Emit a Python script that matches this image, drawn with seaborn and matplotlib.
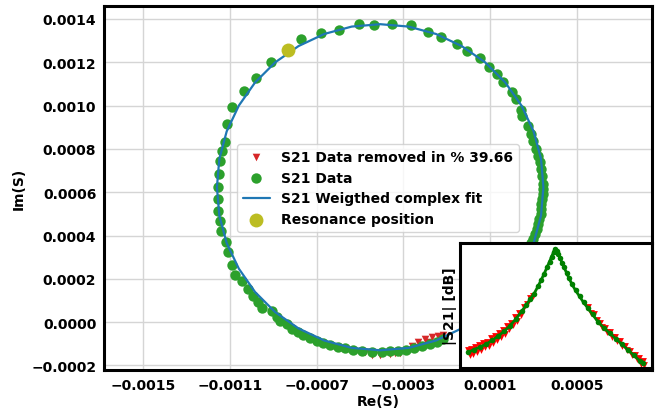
import matplotlib
matplotlib.use("Agg")
import matplotlib.pyplot as plt
from matplotlib.ticker import FuncFormatter
import seaborn as sns

# ---------------- data (units of 1e-4) ----------------
UNIT = 1e-4

data_re = [-11.23, -11.15, -10.89, -10.35, -9.80, -9.11, -8.34, -7.72, -6.82, -5.97,
           -5.03, -4.36, -3.51, -2.66, -1.86, -1.26, -0.54, -0.08, 0.52, 0.93,
           1.30, 1.61, 2.00, 2.19, 2.41, 2.47, 2.73, 2.87, 2.99, 3.12,
           3.22, 3.30, 3.35, 3.38, 3.43, 3.42, 3.42, 3.40, 3.37, 3.35,
           3.33, 3.28, 3.23, 3.16, 3.09, 3.00, 2.91,
           -11.37, -11.46, -11.51, -11.53, -11.55, -11.53, -11.48, -11.42,
           -11.18, -11.11, -10.89, -10.77, -10.46, -10.18, -9.93, -9.69, -9.51, -9.08,
           -8.85, -8.69, -8.38, -8.15, -7.85, -7.62, -7.31, -7.00, -6.70, -6.39,
           -6.00, -5.69, -5.31, -4.92, -4.46, -4.00, -3.62, -3.25, -2.88, -2.51,
           -2.14, -1.77, -1.45, -1.17]
data_im = [8.33, 9.15, 9.95, 10.67, 11.29, 12.00, 12.57, 13.09, 13.34, 13.49,
           13.78, 13.72, 13.79, 13.72, 13.41, 13.17, 12.83, 12.54, 12.18, 11.80,
           11.48, 11.08, 10.61, 10.30, 9.81, 9.53, 9.07, 8.69, 8.38, 8.00,
           7.69, 7.38, 7.07, 6.76, 6.38, 6.15, 5.92, 5.69, 5.46, 5.22,
           4.99, 4.76, 4.53, 4.30, 4.07, 3.84, 3.65,
           7.90, 7.44, 6.84, 6.24, 5.69, 5.13, 4.67, 4.21,
           3.69, 3.22, 2.64, 2.18, 1.91, 1.53, 1.22, 0.91, 0.64, 0.53,
           0.22, 0.06, -0.09, -0.32, -0.47, -0.60, -0.75, -0.86, -0.97, -1.04,
           -1.14, -1.21, -1.27, -1.32, -1.39, -1.37, -1.33, -1.31, -1.27, -1.20,
           -1.10, -1.01, -0.90, -0.80]

removed_re = [-4.45, -4.08, -3.62, -3.16, -2.79, -2.33, -2.00, -1.68, -1.41, -1.17,
              -1.86, -2.60, -3.39, -4.77]
removed_im = [-1.50, -1.52, -1.48, -1.43, -1.34, -0.90, -0.79, -0.69, -0.62, -0.60,
              -0.93, -1.11, -1.41, -1.40]

fit_re = [1.70, 2.45, 3.01, 3.35, 3.46, 3.35, 3.01, 2.45, 1.70, 0.77,
          -0.31, -1.50, -2.76, -4.07, -5.38, -6.645, -7.835, -8.91, -9.84, -10.59,
          -11.15, -11.49, -11.60, -11.49, -11.15, -10.59, -9.84, -8.91, -7.835, -6.645,
          -5.38, -4.07, -2.76, -1.50, -0.31]
fit_im = [1.39, 2.47, 3.65, 4.92, 6.23, 7.54, 8.81, 10.00, 11.07, 12.00,
          12.75, 13.31, 13.65, 13.76, 13.65, 13.31, 12.75, 12.00, 11.07, 10.00,
          8.81, 7.54, 6.23, 4.92, 3.65, 2.47, 1.39, 0.46, -0.29, -0.85,
          -1.19, -1.30, -1.19, -0.85, -0.29]

res_re = [-8.34]
res_im = [12.57]

# inset: |S21| in dB versus frequency offset
ins_f = [8.3, 14, 20, 26, 32, 38, 44, 50, 56, 62, 66, 70, 74, 78, 81, 84, 87, 89.5,
         91.5, 93.5, 95, 96.5, 98.3, 100, 102, 104, 106.5, 109, 112, 115.5, 119.5,
         123.5, 128, 132.5, 138, 144, 150, 156, 162, 168, 174, 180, 182.5]
ins_db = [-40.33, -40.06, -39.80, -39.53, -39.15, -38.73, -38.25, -37.68, -37.00,
          -36.20, -35.65, -35.05, -34.50, -33.75, -33.15, -32.53, -31.85, -31.30,
          -30.80, -30.35, -30.00, -30.25, -30.50, -30.90, -31.40, -31.85, -32.40,
          -32.95, -33.55, -34.15, -34.75, -35.35, -35.95, -36.55, -37.30, -37.90,
          -38.45, -39.00, -39.55, -40.10, -40.65, -41.20, -41.38]
ins_rm_f = [8, 9.5, 11, 12.5, 15, 17, 19, 21, 23, 25, 27, 29, 31, 33, 35, 37, 39, 41,
            43, 45, 47, 49, 51, 53, 55, 57, 59, 61, 64, 67, 70, 73,
            128, 131, 134, 137, 140, 142, 145, 147, 150, 152, 155, 157, 160, 162,
            165, 167, 170, 172, 175, 177, 179, 181, 183, 184]
ins_rm_db = [-40.1, -40.6, -40.0, -40.5, -39.8, -40.3, -39.6, -40.1, -39.4, -39.8,
             -39.3, -39.7, -38.9, -39.4, -38.7, -39.1, -38.4, -38.8, -38.1, -38.5,
             -37.7, -38.0, -37.4, -37.6, -36.8, -37.2, -36.4, -36.6, -35.8, -35.5,
             -34.9, -34.7,
             -35.8, -36.4, -36.5, -37.1, -37.4, -37.8, -37.9, -38.3, -38.3, -38.8,
             -38.8, -39.2, -39.2, -39.7, -39.7, -40.1, -40.2, -40.6, -40.6, -41.0,
             -40.9, -41.5, -41.2, -41.6]

xticks = [-0.0015, -0.0011, -0.0007, -0.0003, 0.0001, 0.0005]
yticks = [-0.0002, 0.0000, 0.0002, 0.0004, 0.0006, 0.0008, 0.0010, 0.0012, 0.0014]

# ---------------- style ----------------
sns.set_theme(style="whitegrid")
plt.rcParams["font.family"] = ["DejaVu Sans"]
plt.rcParams["font.weight"] = "bold"
plt.rcParams["axes.labelweight"] = "bold"
plt.rcParams["text.color"] = "black"
plt.rcParams["axes.labelcolor"] = "black"
plt.rcParams["xtick.color"] = "black"
plt.rcParams["ytick.color"] = "black"

W, H = 655, 414
fig = plt.figure(figsize=(W / 100, H / 100), dpi=100)
ax = fig.add_axes([104 / W, 1 - 371 / H, 548 / W, 364 / H])

def sc(v):
    return [x * UNIT for x in v]

sns.scatterplot(x=sc(removed_re), y=sc(removed_im), ax=ax, color="#d62728", marker="v",
                s=30, linewidth=0, label="S21 Data removed in % 39.66", zorder=2)
sns.scatterplot(x=sc(data_re), y=sc(data_im), ax=ax, color="#2ca02c", marker="o",
                s=56, linewidth=0, label="S21 Data", zorder=3)
sns.lineplot(x=sc(fit_re), y=sc(fit_im), ax=ax, sort=False, estimator=None,
             color="#1f77b4", linewidth=1.6, label="S21 Weigthed complex fit", zorder=4)
sns.scatterplot(x=sc(res_re), y=sc(res_im), ax=ax, color="#bcbd22", marker="o",
                s=100, linewidth=0, label="Resonance position", zorder=5)

ax.set_xlim(-0.001681, 0.000847)
ax.set_ylim(-0.000221, 0.00146)
ax.set_xticks(xticks)
ax.set_yticks(yticks)
fmt = FuncFormatter(lambda v, p: f"{v:.4f}".replace("-", "\u2212"))
ax.xaxis.set_major_formatter(fmt)
ax.yaxis.set_major_formatter(fmt)
ax.tick_params(axis="both", labelsize=10, length=3.5, width=1, color="#333333",
               labelcolor="black", direction="out", pad=2)
for lab in ax.get_xticklabels() + ax.get_yticklabels():
    lab.set_fontweight("bold")
ax.set_xlabel("Re(S)", fontsize=10, fontweight="bold", labelpad=2, color="black")
ax.set_ylabel("Im(S)", fontsize=10, fontweight="bold", labelpad=4, color="black")
ax.grid(True, color="#d5d5d5", linewidth=1)
for s in ax.spines.values():
    s.set_color("black")
    s.set_linewidth(2.2)

leg = ax.legend(loc="center", prop={"weight": "bold", "size": 10}, framealpha=0.8)
for t in leg.get_texts():
    t.set_color("black")

# ---------------- inset ----------------
axi = fig.add_axes([459.5 / W, 1 - 369 / H, 192.5 / W, 125 / H])
axi.set_facecolor("white")
sns.scatterplot(x=ins_rm_f, y=ins_rm_db, ax=axi, color="red", marker="v", s=24,
                linewidth=0, zorder=2)
sns.lineplot(x=ins_f, y=ins_db, ax=axi, sort=False, estimator=None, color="green",
             linewidth=2.0, marker="o", markersize=4.0, markeredgewidth=0, zorder=3)
axi.set_xlim(-0.5, 192)
axi.set_ylim(-41.9, -29.43)
axi.set_xticks([])
axi.set_yticks([])
axi.grid(False)
axi.set_xlabel("")
axi.set_ylabel("|S21| [dB]", fontsize=10, fontweight="bold", labelpad=2, color="black")
for s in axi.spines.values():
    s.set_color("black")
    s.set_linewidth(2.2)

fig.savefig("out.png", dpi=100)
